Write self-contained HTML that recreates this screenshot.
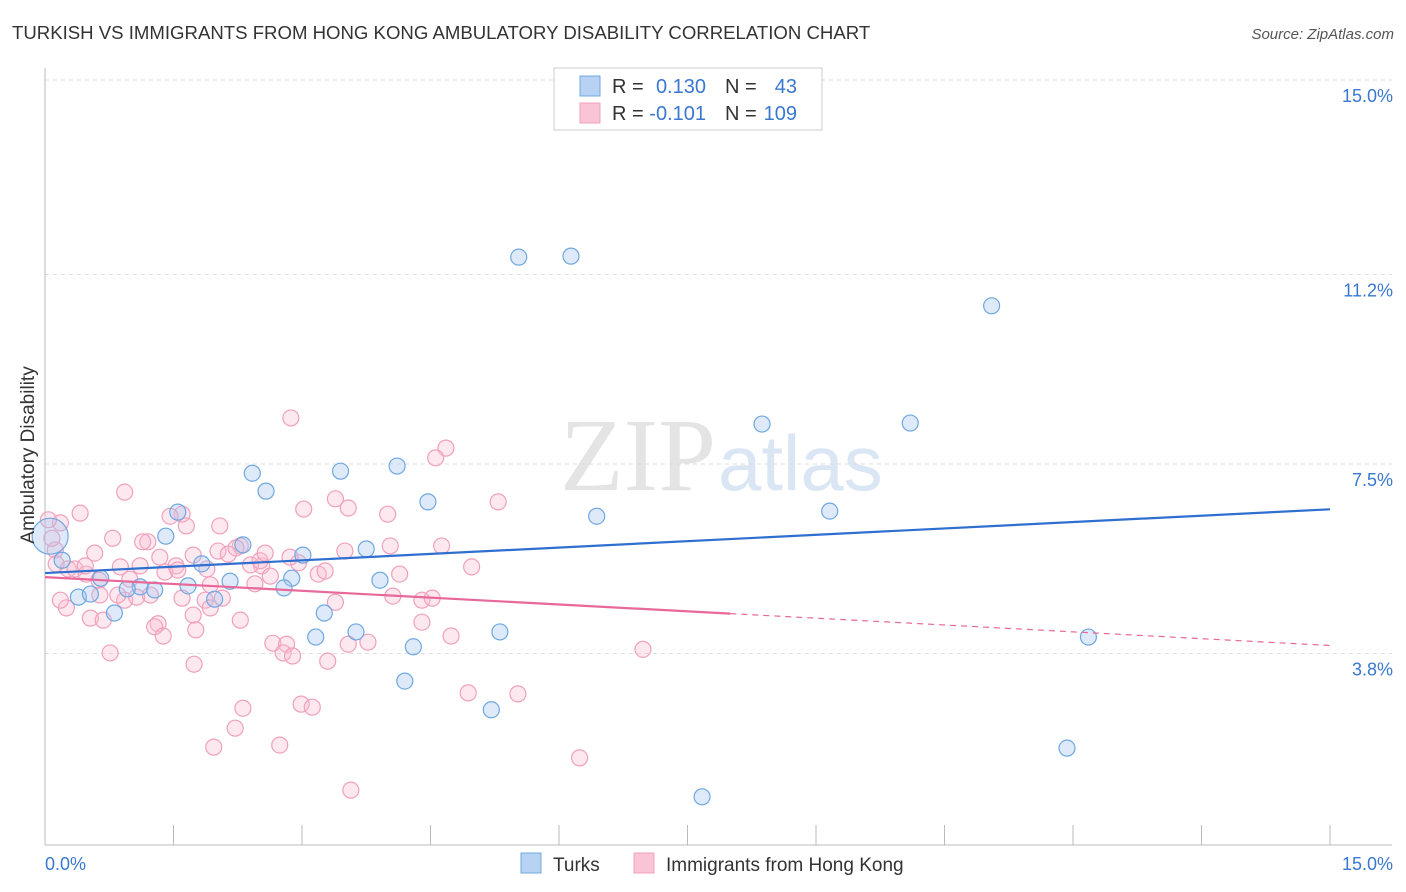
<!DOCTYPE html>
<html><head><meta charset="utf-8"><style>
body{margin:0;background:#fff;font-family:"Liberation Sans",sans-serif;}
#wrap{position:relative;width:1406px;height:892px;overflow:hidden;}
</style></head><body>
<div id="wrap">
<svg id="svg" width="1406" height="892" xmlns="http://www.w3.org/2000/svg">
<text x="12" y="39" font-size="18.6" fill="#333">TURKISH VS IMMIGRANTS FROM HONG KONG AMBULATORY DISABILITY CORRELATION CHART</text>
<text x="1394" y="39" font-size="15" fill="#555" font-style="italic" text-anchor="end">Source: ZipAtlas.com</text>
<text x="716" y="490" font-size="104" fill="#e4e4e4" text-anchor="end" font-family="Liberation Serif,serif">ZIP</text>
<text x="718" y="490" font-size="78" fill="#dbe6f4">atlas</text>
<g id="grid"></g>
<g id="axes"></g>
<g id="marks"></g>
<text x="34" y="455" font-size="19" fill="#333" text-anchor="middle" transform="rotate(-90 34 455)">Ambulatory Disability</text>
<text x="45" y="870" font-size="18" fill="#3a78d0">0.0%</text>
<text x="1393" y="870" font-size="18" fill="#3a78d0" text-anchor="end">15.0%</text>
<g>
<rect x="554" y="68" width="268" height="62" fill="#fff" stroke="#ccc"/>
<rect x="580" y="76" width="20" height="20" fill="#b8d2f4" stroke="#6fa8e0"/>
<rect x="580" y="103" width="20" height="20" fill="#f8c4d6" stroke="#f0a0bc"/>
<text x="612" y="93" font-size="20" fill="#333">R =</text>
<text x="706" y="93" font-size="20" fill="#3a78d0" text-anchor="end">0.130</text>
<text x="725" y="93" font-size="20" fill="#333">N =</text>
<text x="797" y="93" font-size="20" fill="#3a78d0" text-anchor="end">43</text>
<text x="612" y="120" font-size="20" fill="#333">R =</text>
<text x="706" y="120" font-size="20" fill="#3a78d0" text-anchor="end">-0.101</text>
<text x="725" y="120" font-size="20" fill="#333">N =</text>
<text x="797" y="120" font-size="20" fill="#3a78d0" text-anchor="end">109</text>
</g>
<g>
<rect x="521" y="853" width="20" height="20" fill="#b8d2f4" stroke="#6fa8e0"/>
<text x="553" y="871" font-size="19" fill="#333">Turks</text>
<rect x="634" y="853" width="20" height="20" fill="#f8c4d6" stroke="#f0a0bc"/>
<text x="666" y="871" font-size="19" fill="#333">Immigrants from Hong Kong</text>
</g>
</svg>
</div>
<script>
const yTicks=[3.8,7.5,11.2,15.0];
const xTicks=[0,1.5,3,4.5,6,7.5,9,10.5,12,13.5,15];
const turksX=[5.53,6.14,11.05,8.37,10.1,2.42,3.45,4.11,2.58,4.47,6.44,9.16,1.55,1.41,2.31,3.01,3.75,1.83,0.65,1.11,1.28,2.16,2.88,3.91,2.79,0.39,0.53,1.98,0.81,3.26,3.16,3.63,5.31,4.30,12.18,4.20,5.21,11.93,7.67,0.06,0.20,1.67,0.96];
const turksY=[11.54,11.56,10.59,8.28,8.30,7.32,7.36,7.46,6.97,6.76,6.48,6.58,6.56,6.09,5.92,5.72,5.84,5.55,5.27,5.10,5.04,5.21,5.27,5.23,5.08,4.90,4.96,4.86,4.59,4.59,4.12,4.22,4.22,3.93,4.12,3.26,2.70,1.95,1.00,6.09,5.62,5.12,5.06];
const hkX=[2.87,4.68,4.56,0.93,0.41,1.60,5.29,3.39,3.54,3.02,4.00,1.46,1.65,2.04,1.20,2.28,2.02,2.14,2.53,2.63,2.23,3.50,4.03,4.63,4.98,0.79,1.14,0.58,0.12,0.08,0.13,0.27,0.35,0.48,0.63,0.88,0.99,1.34,1.53,1.73,1.89,2.40,2.51,2.96,3.19,3.27,4.06,4.40,4.52,1.40,0.93,0.64,0.85,1.07,1.23,1.60,1.87,1.93,2.45,0.25,0.53,0.68,1.32,1.28,1.38,1.76,2.28,1.73,2.07,2.66,2.82,2.78,2.89,3.54,3.77,4.74,4.40,0.76,1.74,3.30,6.98,4.94,5.52,2.31,2.99,3.12,2.22,1.97,2.74,6.24,3.57,0.18,0.04,0.47,1.11,2.86,2.57,1.93,1.55,4.14,0.18,3.39];
const hkY=[8.40,7.81,7.62,6.95,6.54,6.52,6.76,6.82,6.64,6.62,6.52,6.48,6.29,6.29,5.98,5.90,5.80,5.74,5.51,5.31,5.86,5.80,5.90,5.90,5.49,6.05,5.98,5.76,5.82,6.05,5.55,5.45,5.45,5.35,5.23,5.49,5.25,5.68,5.51,5.72,5.45,5.53,5.61,5.57,5.35,5.41,4.92,4.84,4.88,5.39,4.84,4.94,4.94,4.90,4.94,4.88,4.84,5.14,5.16,4.69,4.49,4.45,4.38,4.32,4.14,4.26,4.45,4.55,4.88,4.00,3.98,3.81,3.75,3.98,4.02,4.14,4.41,3.81,3.59,3.65,3.88,3.03,3.01,2.73,2.81,2.75,2.34,1.97,2.01,1.76,1.13,6.35,6.41,5.51,5.51,5.68,5.76,4.69,5.43,5.35,4.84,4.80];
const big=[39];
const turksTrend=[5.37,0.083];
const hkTrend=[5.29,-0.089];
const NS="http://www.w3.org/2000/svg";
const X=v=>45+v/15*1285, Y=v=>848-v/15*768;
function mk(tag,parent,attrs){const e=document.createElementNS(NS,tag);for(const k in attrs)e.setAttribute(k,attrs[k]);parent.appendChild(e);return e;}
const grid=document.getElementById('grid'),axes=document.getElementById('axes'),marks=document.getElementById('marks');
yTicks.forEach((t,i)=>{
 const l=mk('line',grid,{x1:45,x2:1392,y1:Y(t),y2:Y(t),stroke:'#ddd','stroke-dasharray':'4,4'});
 
 
 const tx=mk('text',grid,{x:1393,y:Y(t)+22,'font-size':18,fill:'#3a78d0','text-anchor':'end'});
 tx.textContent=t.toFixed(1)+'%';
 
 
});
const ax=mk('line',axes,{x1:45,x2:1392,y1:845,y2:845,stroke:'#bbb'});


const ay=mk('line',axes,{x1:45,x2:45,y1:68,y2:845,stroke:'#bbb'});


xTicks.forEach(t=>{const l=mk('line',axes,{x1:X(t),x2:X(t),y1:825,y2:845,stroke:'#bbb'});
 
 });
hkX.forEach((x,i)=>{const c=mk('circle',marks,{cx:X(x),cy:Y(hkY[i]),r:8,fill:'rgba(248,190,210,0.35)',stroke:'#f0a0bc','stroke-width':1.2});
 
 });
turksX.forEach((x,i)=>{const c=mk('circle',marks,{cx:X(x),cy:Y(turksY[i]),r:big.includes(i)?18:8,fill:'rgba(160,196,240,0.35)',stroke:'#6fa8e0','stroke-width':1.2});
 
 });
const [ta,tb]=turksTrend;
const tl=mk('line',marks,{x1:X(0),y1:Y(ta),x2:X(15),y2:Y(ta+tb*15),stroke:'#2f6fd0','stroke-width':2.2});


const [ha,hb]=hkTrend;
const hl=mk('line',marks,{x1:X(0),y1:Y(ha),x2:X(8),y2:Y(ha+hb*8),stroke:'#e8689a','stroke-width':2.2});


const hd=mk('line',marks,{x1:X(8),y1:Y(ha+hb*8),x2:X(15),y2:Y(ha+hb*15),stroke:'#e8689a','stroke-width':1.2,'stroke-dasharray':'6,5'});


</script>
</body></html>
